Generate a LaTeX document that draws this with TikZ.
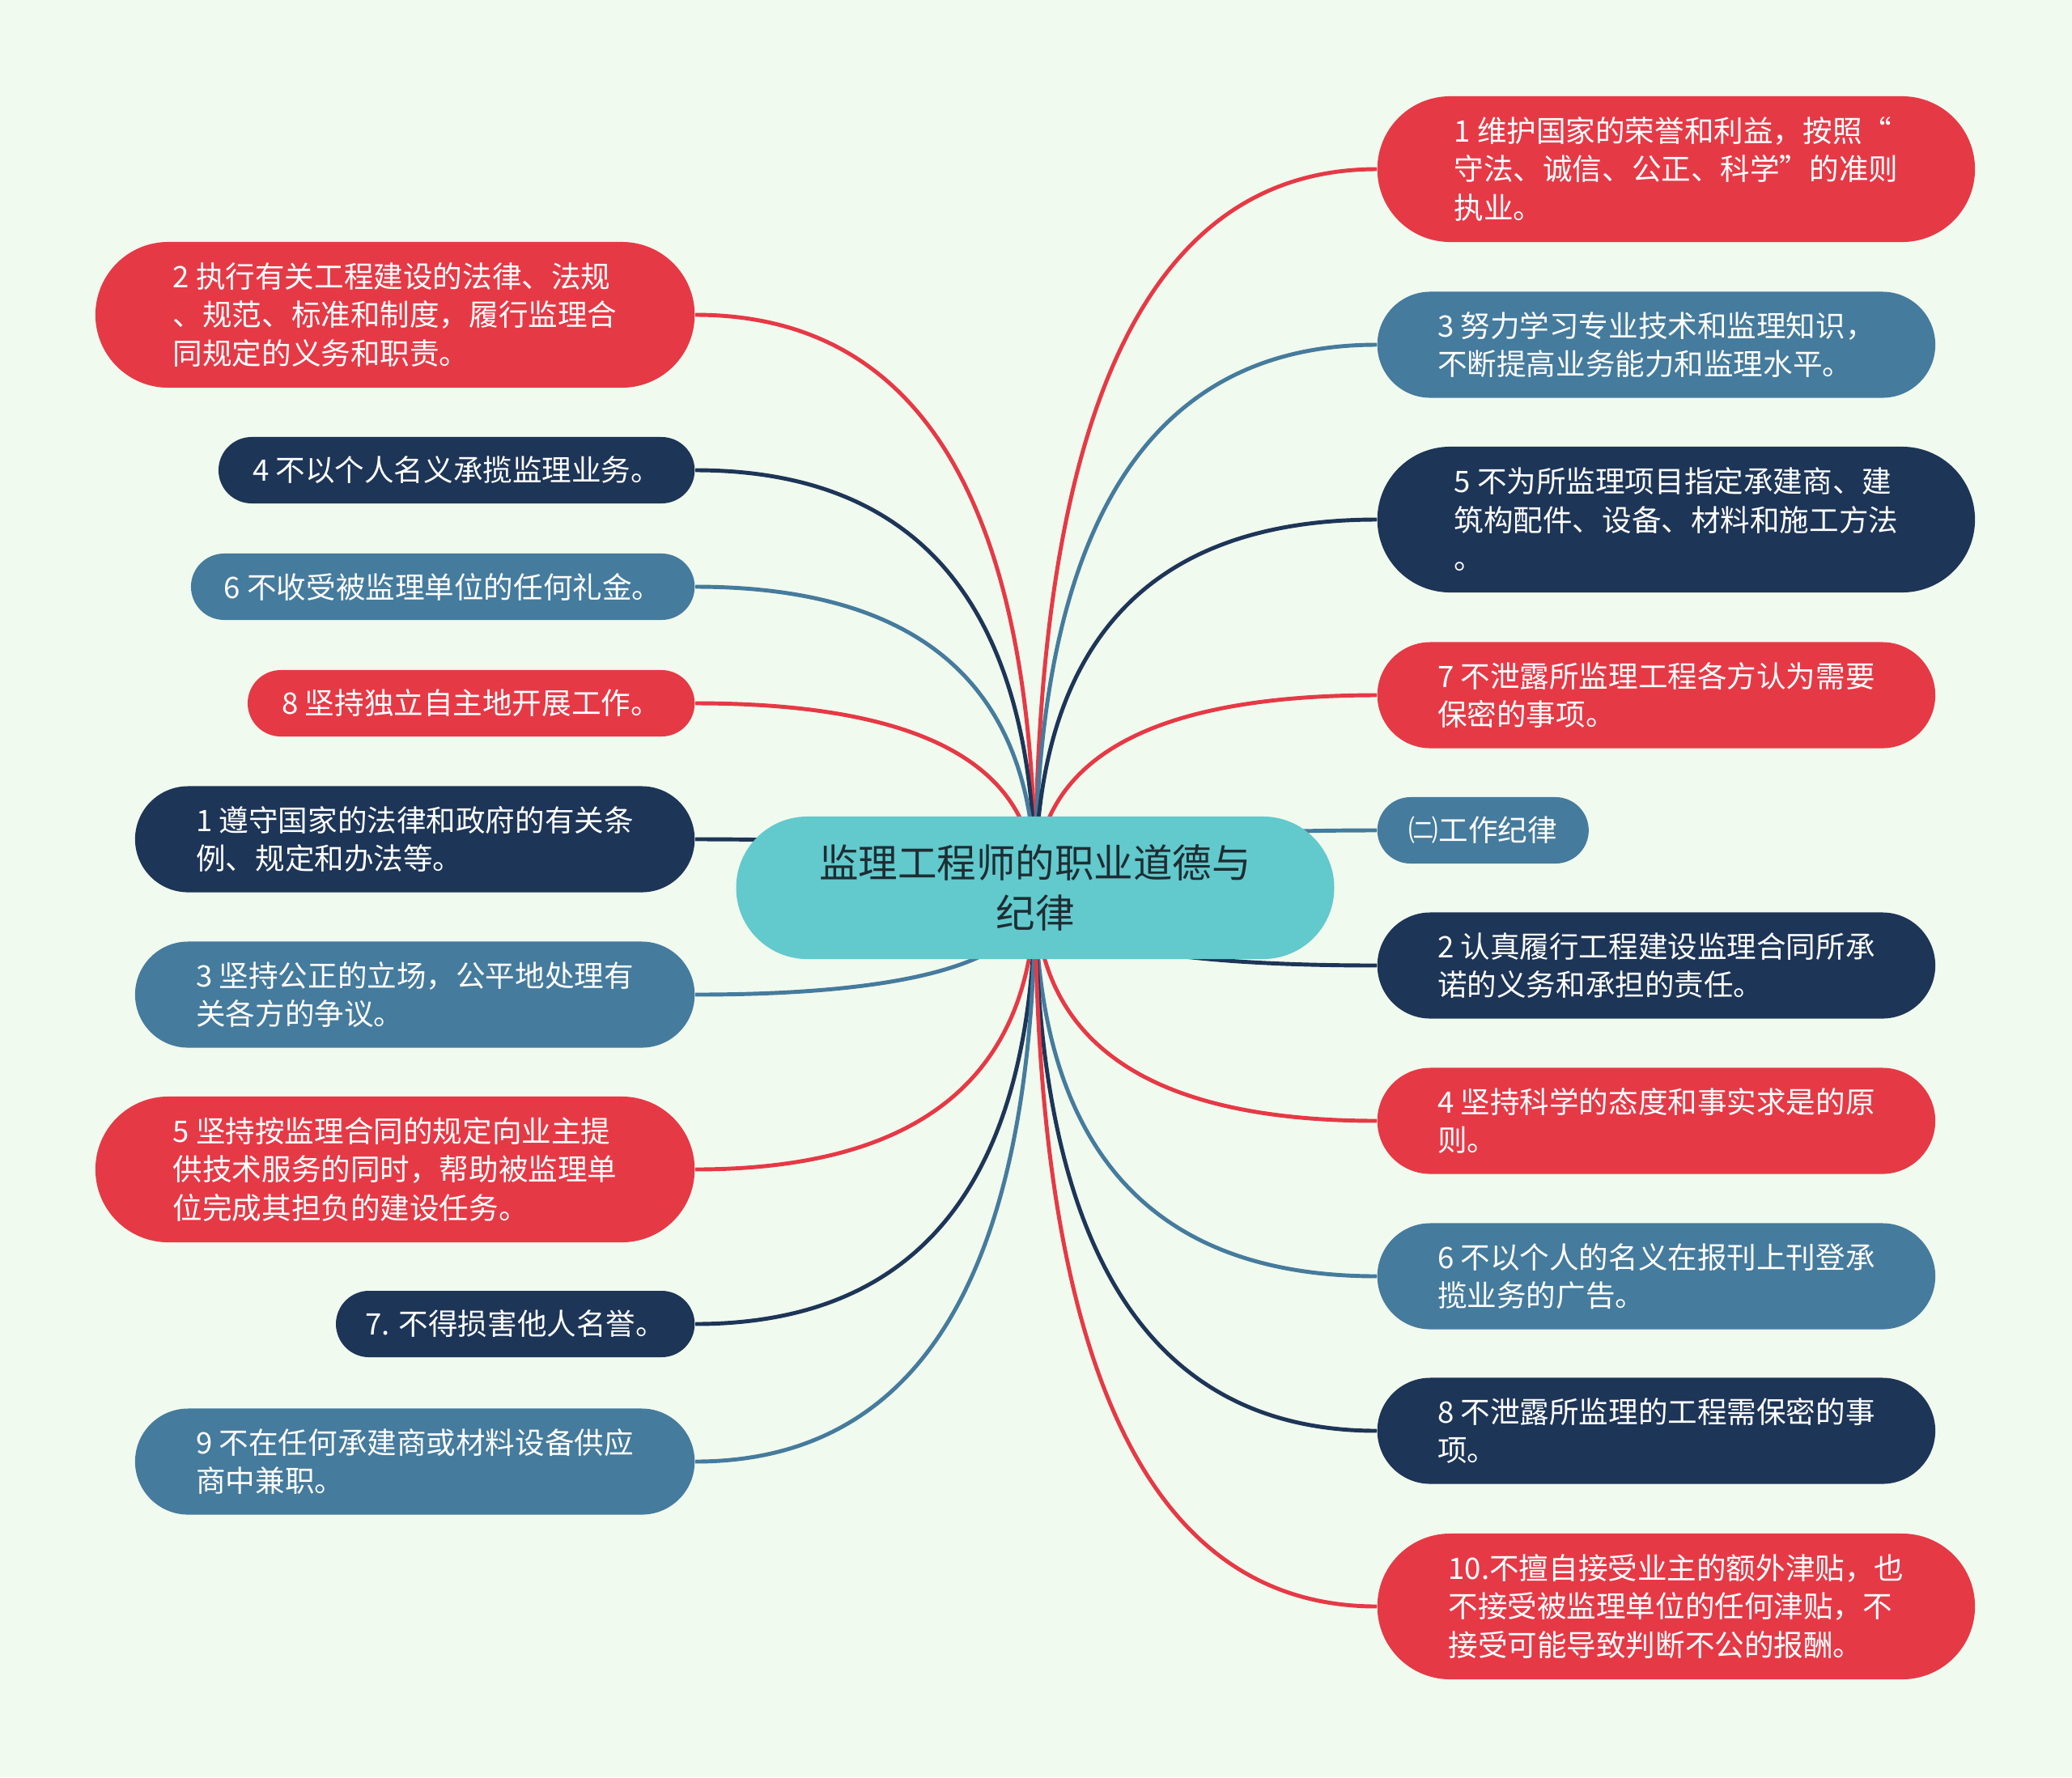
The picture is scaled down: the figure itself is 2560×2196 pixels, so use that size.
\documentclass[tikz,border=0pt]{standalone}
\usepackage{fontspec}
\newfontfamily\cjk{Noto Sans CJK SC}
\usetikzlibrary{shapes.misc,calc,backgrounds}

\definecolor{bgpaper}{HTML}{F1FAEE}
\definecolor{leafred}{HTML}{E63946}
\definecolor{leafnavy}{HTML}{1D3557}
\definecolor{leafblue}{HTML}{457B9D}
\definecolor{hubteal}{HTML}{62C9CC}
\definecolor{hubtext}{HTML}{1E2D33}

\tikzset{
  leaf/.style={rounded rectangle, inner xsep=0pt, inner ysep=0pt, text=white,
    align=left, font=\cjk\fontsize{10.4pt}{13.5pt}\selectfont},
  oneline/.style={minimum height=0.82cm},
  twoline/.style={minimum height=1.31cm},
  threeline/.style={minimum height=1.80cm},
  branch/.style={line width=1.4pt},
}

\begin{document}
\begin{tikzpicture}[x=0.01cm, y=-0.01cm]
    % paper
    \begin{scope}[on background layer]
      \fill[bgpaper] (0,0) rectangle (2560,2196);
    \end{scope}

    % central topic
    \node[rounded rectangle, fill=hubteal, text=hubtext, align=center,
      minimum width=7.62cm, minimum height=1.76cm,
      font=\cjk\fontsize{13.8pt}{17.6pt}\selectfont] (hub) at (1279,1097)
      {监理工程师的职业道德与\\纪律};

    % left side (right edges at x = 859)
    \node[leaf, threeline, fill=leafred, minimum width=7.40cm, anchor=east] (l2) at (859,389)
      {2 执行有关工程建设的法律、法规\\、规范、标准和制度，履行监理合\\同规定的义务和职责。};
    \node[leaf, oneline, fill=leafnavy, minimum width=5.88cm, anchor=east] (l4) at (859,581)
      {4 不以个人名义承揽监理业务。};
    \node[leaf, oneline, fill=leafblue, minimum width=6.22cm, anchor=east] (l6) at (859,725)
      {6 不收受被监理单位的任何礼金。};
    \node[leaf, oneline, fill=leafred, minimum width=5.52cm, anchor=east] (l8) at (859,869)
      {8 坚持独立自主地开展工作。};
    \node[leaf, twoline, fill=leafnavy, minimum width=6.91cm, anchor=east] (l1) at (859,1037)
      {1 遵守国家的法律和政府的有关条\\例、规定和办法等。};
    \node[leaf, twoline, fill=leafblue, minimum width=6.91cm, anchor=east] (l3) at (859,1229)
      {3 坚持公正的立场，公平地处理有\\关各方的争议。};
    \node[leaf, threeline, fill=leafred, minimum width=7.40cm, anchor=east] (l5) at (859,1445)
      {5 坚持按监理合同的规定向业主提\\供技术服务的同时，帮助被监理单\\位完成其担负的建设任务。};
    \node[leaf, oneline, fill=leafnavy, minimum width=4.43cm, anchor=east] (l7) at (859,1636)
      {7. 不得损害他人名誉。};
    \node[leaf, twoline, fill=leafblue, minimum width=6.91cm, anchor=east] (l9) at (859,1806)
      {9 不在任何承建商或材料设备供应\\商中兼职。};

    % right side (left edges at x = 1701)
    \node[leaf, threeline, fill=leafred, minimum width=7.38cm, anchor=west] (r1) at (1701,209)
      {1 维护国家的荣誉和利益，按照“\\守法、诚信、公正、科学”的准则\\执业。};
    \node[leaf, twoline, fill=leafblue, minimum width=6.89cm, anchor=west] (r3) at (1701,426)
      {3 努力学习专业技术和监理知识，\\不断提高业务能力和监理水平。};
    \node[leaf, threeline, fill=leafnavy, minimum width=7.38cm, anchor=west] (r5) at (1701,642)
      {5 不为所监理项目指定承建商、建\\筑构配件、设备、材料和施工方法\\。};
    \node[leaf, twoline, fill=leafred, minimum width=6.89cm, anchor=west] (r7) at (1701,859)
      {7 不泄露所监理工程各方认为需要\\保密的事项。};
    \node[leaf, oneline, fill=leafblue, minimum width=2.61cm, anchor=west] (discipline) at (1701,1026)
      {㈡工作纪律};
    \node[leaf, twoline, fill=leafnavy, minimum width=6.89cm, anchor=west] (r2) at (1701,1193)
      {2 认真履行工程建设监理合同所承\\诺的义务和承担的责任。};
    \node[leaf, twoline, fill=leafred, minimum width=6.89cm, anchor=west] (r4) at (1701,1385)
      {4 坚持科学的态度和事实求是的原\\则。};
    \node[leaf, twoline, fill=leafblue, minimum width=6.89cm, anchor=west] (r6) at (1701,1577)
      {6 不以个人的名义在报刊上刊登承\\揽业务的广告。};
    \node[leaf, twoline, fill=leafnavy, minimum width=6.89cm, anchor=west] (r8) at (1701,1768)
      {8 不泄露所监理的工程需保密的事\\项。};
    \node[leaf, threeline, fill=leafred, minimum width=7.38cm, anchor=west] (r10) at (1701,1985)
      {10.不擅自接受业主的额外津贴，也\\不接受被监理单位的任何津贴，不\\接受可能导致判断不公的报酬。};

    % branches: quadratic curves out of the hub centre, hidden under the hub
    \begin{scope}[on background layer]
      \foreach \leaf/\col in {l2/leafred, l4/leafnavy, l6/leafblue, l8/leafred, l1/leafnavy,
                              l3/leafblue, l5/leafred, l7/leafnavy, l9/leafblue}
        \draw[branch, \col] (hub.center)
          .. controls ($(hub.center)!2/3!(hub.center |- \leaf.east)$)
          and ($(\leaf.east)!2/3!(hub.center |- \leaf.east)$) .. (\leaf.east);
      \foreach \leaf/\col in {r1/leafred, r3/leafblue, r5/leafnavy, r7/leafred, discipline/leafblue,
                              r2/leafnavy, r4/leafred, r6/leafblue, r8/leafnavy, r10/leafred}
        \draw[branch, \col] (hub.center)
          .. controls ($(hub.center)!2/3!(hub.center |- \leaf.west)$)
          and ($(\leaf.west)!2/3!(hub.center |- \leaf.west)$) .. (\leaf.west);
    \end{scope}
\end{tikzpicture}
\end{document}
